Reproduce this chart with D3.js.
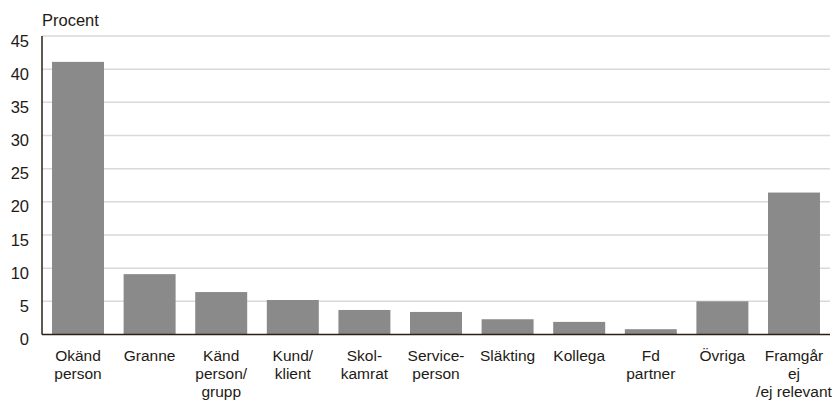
<!DOCTYPE html>
<html>
<head>
<meta charset="utf-8">
<script src="https://cdn.jsdelivr.net/npm/d3@7"></script>
<style>
  body { margin: 0; background: #fff; }
  text { font-family: "Liberation Sans", Arial, sans-serif; fill: #231a15; }
</style>
</head>
<body>
<svg id="chart"></svg>
<script>
const categories = [
  ["Okänd", "person"],
  ["Granne"],
  ["Känd", "person/", "grupp"],
  ["Kund/", "klient"],
  ["Skol-", "kamrat"],
  ["Service-", "person"],
  ["Släkting"],
  ["Kollega"],
  ["Fd", "partner"],
  ["Övriga"],
  ["Framgår", "ej", "/ej relevant"]
];
const values = [41.1, 9.1, 6.4, 5.2, 3.7, 3.4, 2.3, 1.9, 0.8, 5.0, 21.4];
const yTicks = [0, 5, 10, 15, 20, 25, 30, 35, 40, 45];

const W = 835, H = 405;
const plot = { left: 42, right: 830, top: 36, bottom: 334.5 };

const svg = d3.select("#chart").attr("width", W).attr("height", H);

const keys = categories.map(c => c.join(" "));

const x = d3.scaleBand()
  .domain(keys)
  .range([plot.left, plot.right])
  .paddingInner(0.274)
  .paddingOuter(0.14);

const y = d3.scaleLinear()
  .domain([0, 45])
  .range([plot.bottom, plot.top]);

// Gridlines
svg.append("g")
  .selectAll("line")
  .data(yTicks.filter(d => d > 0))
  .enter().append("line")
  .attr("x1", plot.left)
  .attr("x2", plot.right)
  .attr("y1", d => y(d))
  .attr("y2", d => y(d))
  .attr("stroke", "#d9d9d9")
  .attr("stroke-width", 1.5);

// Bars
svg.append("g")
  .selectAll("rect")
  .data(values)
  .enter().append("rect")
  .attr("x", (d, i) => x(keys[i]))
  .attr("width", x.bandwidth())
  .attr("y", d => y(d))
  .attr("height", d => y(0) - y(d))
  .attr("fill", "#8a8a8a");

// Axis lines
svg.append("line")
  .attr("x1", plot.left).attr("x2", plot.left)
  .attr("y1", y(45)).attr("y2", y(0))
  .attr("stroke", "#2b1f17").attr("stroke-width", 1.5);
svg.append("line")
  .attr("x1", plot.left).attr("x2", plot.right)
  .attr("y1", y(0)).attr("y2", y(0))
  .attr("stroke", "#2b1f17").attr("stroke-width", 1.5);

// Y tick labels
svg.append("g")
  .selectAll("text")
  .data(yTicks)
  .enter().append("text")
  .attr("x", 29)
  .attr("y", d => y(d) + 10.5)
  .attr("text-anchor", "end")
  .style("font-size", "16.5px")
  .text(d => d);

// Axis title
svg.append("text")
  .attr("x", 42)
  .attr("y", 26)
  .style("font-size", "16.5px")
  .text("Procent");

// Category labels
const labels = svg.append("g")
  .selectAll("text")
  .data(categories)
  .enter().append("text")
  .attr("text-anchor", "middle")
  .style("font-size", "15.5px")
  .attr("transform", (d, i) => `translate(${x(keys[i]) + x.bandwidth() / 2},361)`);

labels.selectAll("tspan")
  .data(d => d)
  .enter().append("tspan")
  .attr("x", 0)
  .attr("y", (d, i) => i * 18)
  .text(d => d);
</script>
</body>
</html>
